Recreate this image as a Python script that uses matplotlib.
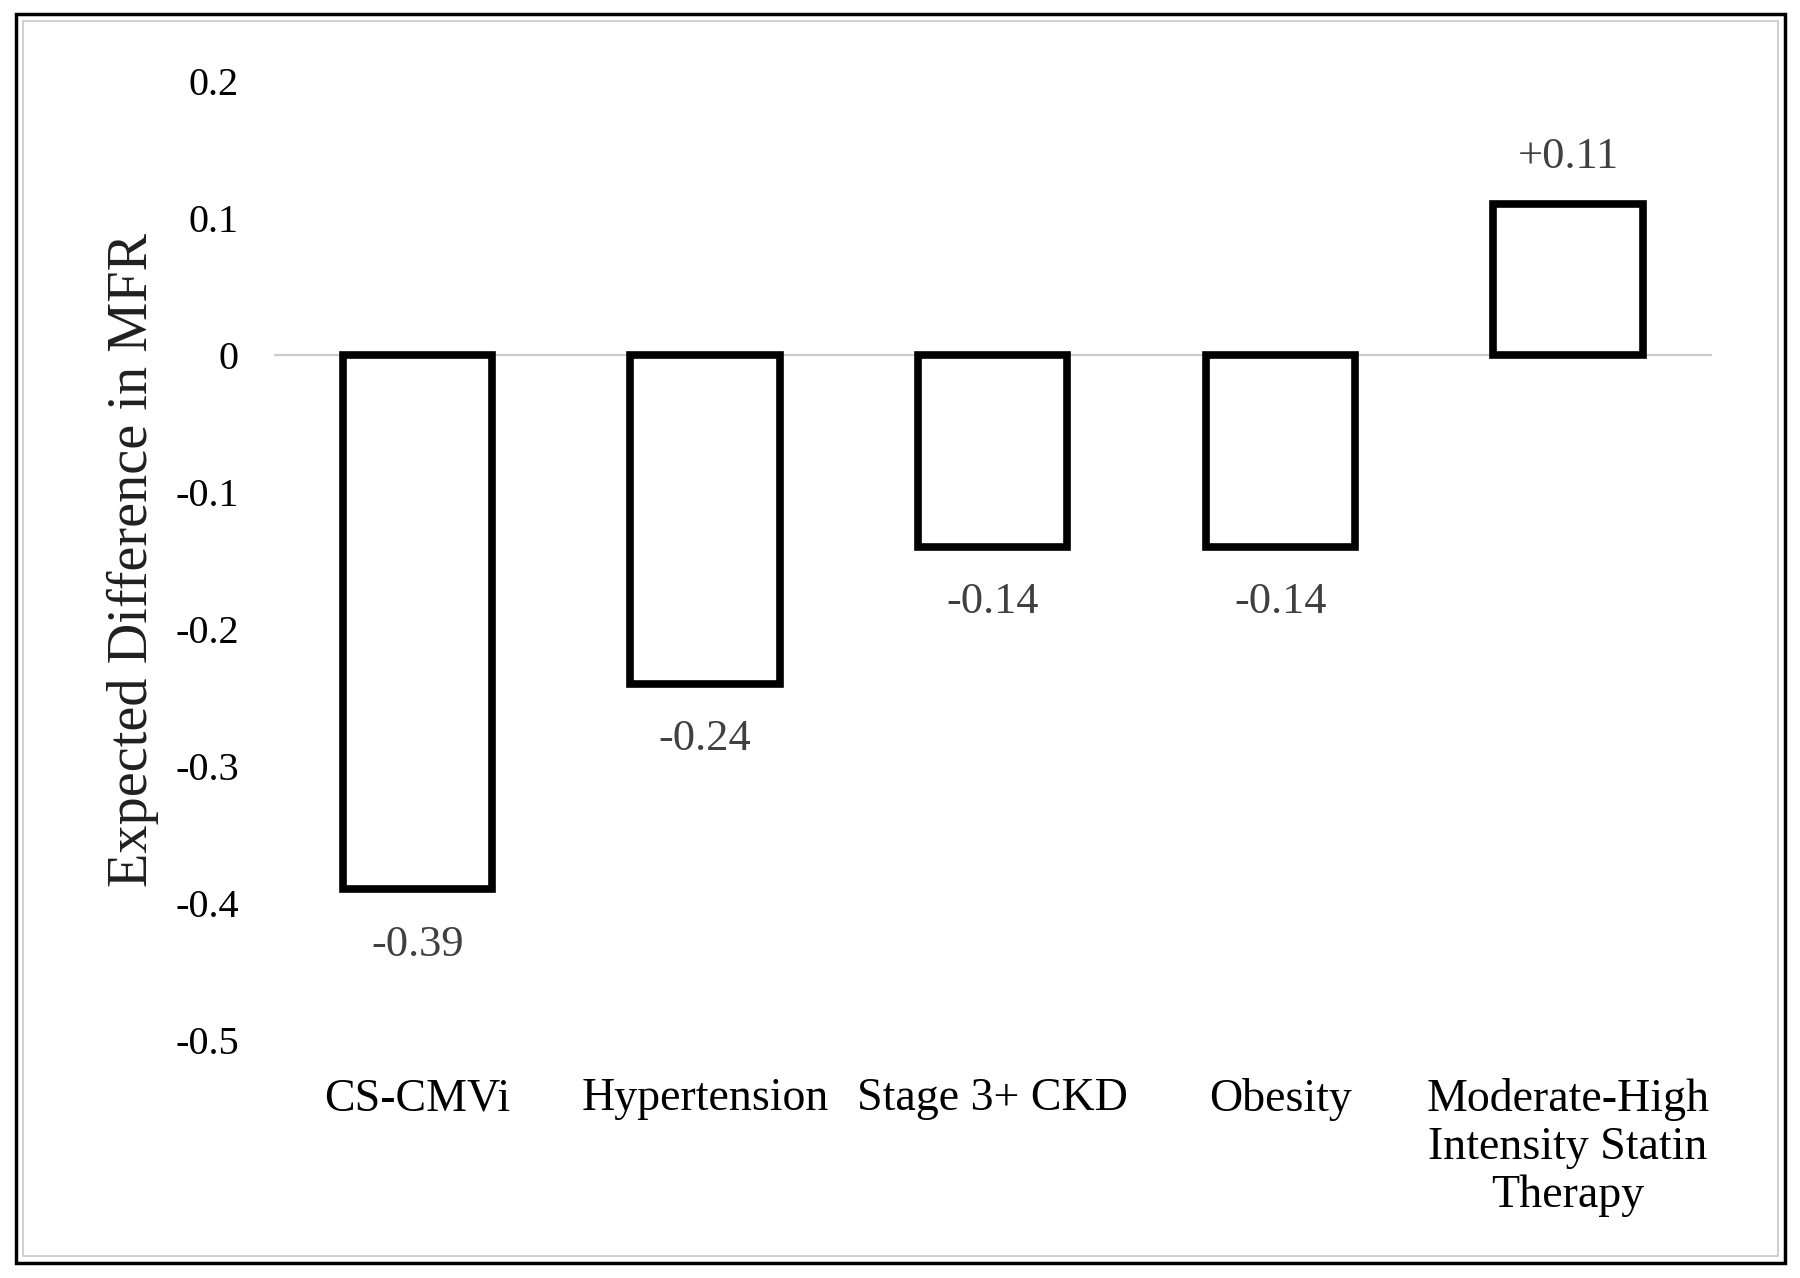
import numpy as np
import matplotlib.pyplot as plt
from matplotlib.patches import Rectangle

plt.rcParams['font.family'] = ['Liberation Serif', 'DejaVu Serif']

# Données
categories = ["CS-CMVi", "Hypertension", "Stage 3+ CKD", "Obesity",
              "Moderate-High\nIntensity Statin\nTherapy"]
values = [-0.39, -0.24, -0.14, -0.14, 0.11]
value_labels = ["-0.39", "-0.24", "-0.14", "-0.14", "+0.11"]
yticks = [0.2, 0.1, 0, -0.1, -0.2, -0.3, -0.4, -0.5]
ytick_labels = ["0.2", "0.1", "0", "-0.1", "-0.2", "-0.3", "-0.4", "-0.5"]

fig = plt.figure(figsize=(18, 12.78), dpi=100)
ax = fig.add_axes([0.152, 0.186, 0.799, 0.751])

x = np.arange(len(categories))
ax.axhline(0, color="#cccccc", lw=1.6, zorder=1)
ax.bar(x, values, width=0.52, facecolor="white", edgecolor="black",
       linewidth=5.5, zorder=2)

for xi, v, lab in zip(x, values, value_labels):
    off = 34 if v > 0 else -40
    ax.annotate(lab, (xi, v), xytext=(0, off), textcoords="offset points",
                ha="center", va="center", fontsize=32, color="#404040")

ax.set_xlim(-0.5, 4.5)
ax.set_ylim(-0.5, 0.2)
ax.set_yticks(yticks)
ax.set_yticklabels(ytick_labels, fontsize=29)
ax.set_xticks(x)
ax.set_xticklabels(categories, fontsize=33, linespacing=1.17)
ax.tick_params(axis="y", length=0, pad=25)
ax.tick_params(axis="x", length=0, pad=27)
for s in ax.spines.values():
    s.set_visible(False)

ax.set_ylabel("Expected Difference in MFR", fontsize=40.5, color="#202020")
ax.yaxis.set_label_coords(159 / 1800, 0.5 * (0.186 + 0.937), transform=fig.transFigure)

# Cadre autour du graphique
fig.patches.append(Rectangle((16 / 1800, 1 - 1263 / 1278), 1769 / 1800, 1249 / 1278,
                             transform=fig.transFigure, fill=False,
                             edgecolor="black", lw=2.5))
fig.patches.append(Rectangle((23 / 1800, 1 - 1256 / 1278), 1755 / 1800, 1235 / 1278,
                             transform=fig.transFigure, fill=False,
                             edgecolor="#c8c8c8", lw=1.2))

fig.savefig("out.png", dpi=100, facecolor="white")
